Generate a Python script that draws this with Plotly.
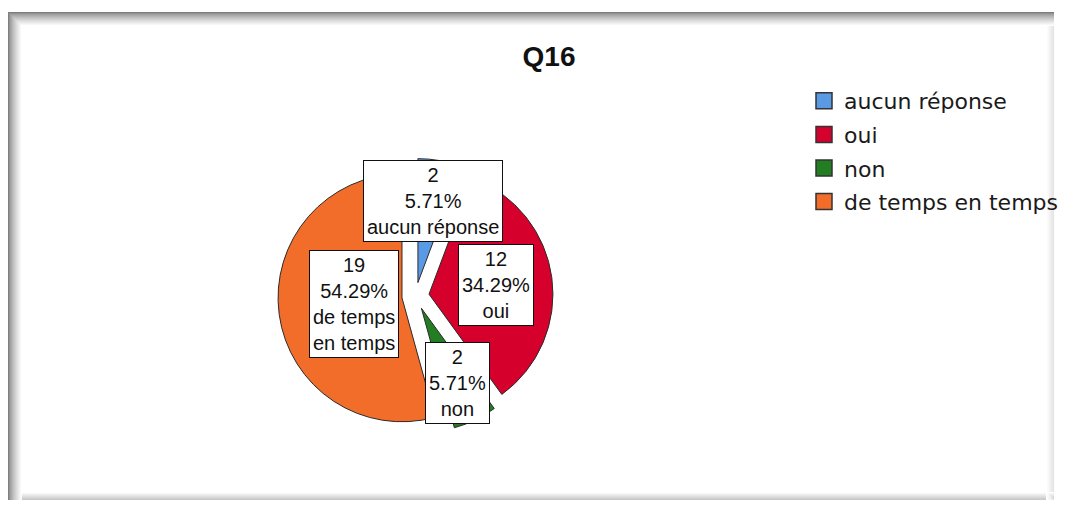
import math
import plotly.graph_objects as go

# ---- data ----
categories = ["aucun réponse", "oui", "non", "de temps en temps"]
counts = [2, 12, 2, 19]
box_labels = ["aucun réponse", "oui", "non", "de temps<br>en temps"]
colors = ["#5A9AE5", "#D6002C", "#237D23", "#F26D29"]
title_text = "Q16"

# page body has an 8px margin: figure occupies window minus margins
OFF = 8
W, H = 1071 - 2 * OFF, 508 - 2 * OFF


def fx(px):
    return (px - OFF) / W


def fy(py):
    return 1 - (py - OFF) / H


total = sum(counts)
percents = [c / total * 100 for c in counts]

# pie geometry (window pixels)
cx, cy, r, pull = 419.0, 296.0, 125.0, 0.11
half = r * (1 + pull)
dom_x = [fx(cx - half), fx(cx + half)]
dom_y = [fy(cy + half), fy(cy - half)]

fig = go.Figure()
fig.add_trace(go.Pie(
    labels=categories, values=counts, sort=False, direction="clockwise",
    rotation=0, pull=[pull] * len(counts),
    marker=dict(colors=colors, line=dict(color="#2a2a2a", width=1)),
    textinfo="none", hoverinfo="label+value+percent", showlegend=False,
    domain=dict(x=dom_x, y=dom_y),
))

# legend entries
for cat, col in zip(categories, colors):
    fig.add_trace(go.Scatter(
        x=[None], y=[None], mode="markers", name=cat, legendgroup=cat,
        marker=dict(symbol="square", size=16, color=col,
                    line=dict(color="#333333", width=1.5)),
        hoverinfo="skip",
    ))

# label boxes at slice centroids
annotations = []
cum = 0.0
for c, p, lab in zip(counts, percents, box_labels):
    theta = c / total * 2 * math.pi
    mid = cum + theta / 2
    cum += theta
    dx, dy = math.sin(mid), -math.cos(mid)  # screen coords, y downward
    half_t = theta / 2
    cdist = 2 * r * math.sin(half_t) / (3 * half_t)
    px = cx + (pull * r + cdist) * dx
    py = cy + (pull * r + cdist) * dy
    annotations.append(dict(
        x=fx(px), y=fy(py), xref="paper", yref="paper",
        xanchor="center", yanchor="middle", showarrow=False,
        text=f"{c}<br>{p:.2f}%<br>{lab}", align="center",
        font=dict(family="Liberation Sans, Arial", size=20, color="#111111"),
        bgcolor="white", bordercolor="#111111", borderwidth=1, borderpad=3,
    ))

# frame with soft shadow
shapes = []
L, T, R, B = 8, 12, 1063, 500
steps = 14
for i in range(steps):
    t = i / (steps - 1)
    g = int(125 + (255 - 125) * (t ** 0.7))
    col = f"rgb({g},{g},{g})"
    shapes.append(dict(type="line", xref="paper", yref="paper",
                       x0=fx(L + i + 0.5), x1=fx(L + i + 0.5),
                       y0=fy(T + i), y1=fy(B),
                       line=dict(color=col, width=1.2)))
    shapes.append(dict(type="line", xref="paper", yref="paper",
                       x0=fx(L + i), x1=fx(R),
                       y0=fy(T + i + 0.5), y1=fy(T + i + 0.5),
                       line=dict(color=col, width=1.2)))
for i in range(8):
    t = i / 7
    g = int(200 + 55 * t)
    col = f"rgb({g},{g},{g})"
    shapes.append(dict(type="line", xref="paper", yref="paper",
                       x0=fx(L + 14), x1=fx(R),
                       y0=fy(B - i - 0.5), y1=fy(B - i - 0.5),
                       line=dict(color=col, width=1.2)))
    g2 = int(228 + 27 * t)
    col2 = f"rgb({g2},{g2},{g2})"
    shapes.append(dict(type="line", xref="paper", yref="paper",
                       x0=fx(R - i - 0.5), x1=fx(R - i - 0.5),
                       y0=fy(T + 14), y1=fy(B),
                       line=dict(color=col2, width=1.2)))

fig.update_layout(
    width=W, height=H, margin=dict(l=0, r=0, t=0, b=0),
    paper_bgcolor="white", plot_bgcolor="white",
    title=dict(text=f"<b>{title_text}</b>", x=fx(549), xanchor="center",
               y=fy(56), yanchor="middle",
               font=dict(family="Liberation Sans, Arial", size=28, color="#111111")),
    xaxis=dict(visible=False), yaxis=dict(visible=False),
    showlegend=True,
    legend=dict(x=fx(811), xanchor="left", y=fy(80), yanchor="top",
                font=dict(family="DejaVu Sans", size=22, color="#1a1a1a"),
                tracegroupgap=2, bgcolor="rgba(0,0,0,0)", itemclick=False),
    annotations=annotations, shapes=shapes,
)

fig.write_html("out.html")
